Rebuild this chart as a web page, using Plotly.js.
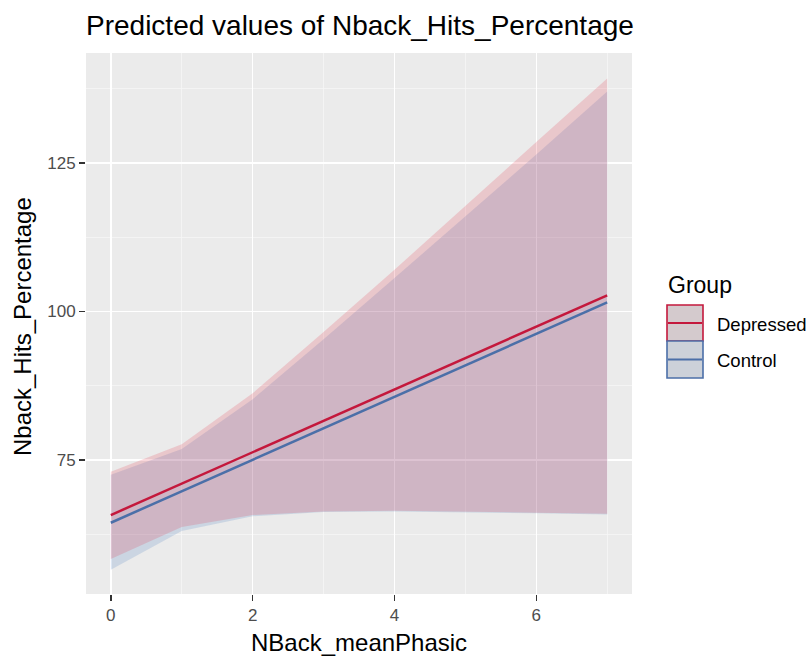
<!DOCTYPE html>
<html>
<head>
<meta charset="utf-8">
<script src="https://cdn.plot.ly/plotly-3.0.1.min.js"></script>
<style>html,body{margin:0;padding:0;background:#fff}#chart{width:812px;height:657px}</style>
</head>
<body>
<div id="chart"></div>
<script>
// ---- data ----
var groups = ["Depressed", "Control"];
var lineX = [0, 7];
var depressedPred = [65.7, 102.7];
var controlPred = [64.4, 101.5];
var ribbonX = [0, 1, 2, 3, 4, 5, 6, 7];
var depressedUpper = [73.0, 77.6, 86.2, 96.5, 107.0, 117.8, 128.5, 139.2];
var depressedLower = [58.3, 63.7, 65.7, 66.3, 66.4, 66.3, 66.1, 65.9];
var controlUpper = [72.5, 76.8, 85.2, 95.3, 105.6, 116.0, 126.4, 137.0];
var controlLower = [56.5, 63.0, 65.5, 66.2, 66.3, 66.2, 66.0, 65.8];
var xTicks = [0, 2, 4, 6];
var yTicks = [75, 100, 125];

var redLine = "#C4183C", blueLine = "#4B6FA8";
var redFill = "rgba(228,40,60,0.18)", blueFill = "rgba(60,115,190,0.18)";

function ribbon(lo, up, fill) {
  return {
    x: ribbonX.concat(ribbonX.slice().reverse()),
    y: up.concat(lo.slice().reverse()),
    type: "scatter", mode: "lines", fill: "toself", fillcolor: fill,
    line: {width: 0}, hoverinfo: "skip", showlegend: false
  };
}
var traces = [
  ribbon(controlLower, controlUpper, blueFill),
  ribbon(depressedLower, depressedUpper, redFill),
  {x: lineX, y: controlPred, type: "scatter", mode: "lines", line: {color: blueLine, width: 2.5}, name: groups[1], showlegend: false},
  {x: lineX, y: depressedPred, type: "scatter", mode: "lines", line: {color: redLine, width: 2.5}, name: groups[0], showlegend: false}
];

// plot area in pixels: x 86..632, y 53..594
var L = 86, R = 632, T = 53, B = 594;
function px(x) { return (x - L) / (R - L); }
function py(y) { return (B - y) / (B - T); }
var shapes = [
  {type: "rect", xref: "paper", yref: "paper", x0: px(667), x1: px(703), y0: py(341), y1: py(305), fillcolor: "#D4CACD", line: {color: redLine, width: 1.6}},
  {type: "line", xref: "paper", yref: "paper", x0: px(668), x1: px(702), y0: py(323), y1: py(323), line: {color: redLine, width: 2.2}},
  {type: "rect", xref: "paper", yref: "paper", x0: px(667), x1: px(703), y0: py(378), y1: py(341), fillcolor: "#CCD1D9", line: {color: blueLine, width: 1.6}},
  {type: "line", xref: "paper", yref: "paper", x0: px(668), x1: px(702), y0: py(359.5), y1: py(359.5), line: {color: blueLine, width: 2.2}}
];
var font = "Liberation Sans, Arial, Helvetica, sans-serif";
var annotations = [
  {text: "Group", xref: "paper", yref: "paper", x: px(666), y: py(285), xanchor: "left", yanchor: "middle", showarrow: false, font: {family: font, size: 23, color: "#000"}},
  {text: groups[0], xref: "paper", yref: "paper", x: px(715), y: py(324), xanchor: "left", yanchor: "middle", showarrow: false, font: {family: font, size: 18.5, color: "#000"}},
  {text: groups[1], xref: "paper", yref: "paper", x: px(715), y: py(360), xanchor: "left", yanchor: "middle", showarrow: false, font: {family: font, size: 18.5, color: "#000"}},
  {text: "NBack_meanPhasic", xref: "paper", yref: "paper", x: px(359), y: py(642), xanchor: "center", yanchor: "middle", showarrow: false, font: {family: font, size: 24, color: "#000"}},
  {text: "Nback_Hits_Percentage", xref: "paper", yref: "paper", x: px(22), y: py(327), xanchor: "center", yanchor: "middle", textangle: -90, showarrow: false, font: {family: font, size: 24, color: "#000"}}
];

var layout = {
  width: 812, height: 657,
  margin: {l: L, r: 812 - R, t: T, b: 657 - B, pad: 0},
  paper_bgcolor: "#FFFFFF", plot_bgcolor: "#EBEBEB",
  font: {family: font},
  title: {text: "Predicted values of Nback_Hits_Percentage", x: 86 / 812, xanchor: "left", xref: "container", y: 1 - 25 / 657, yanchor: "middle", font: {family: font, size: 28, color: "#000"}},
  showlegend: false,
  xaxis: {
    range: [-0.35, 7.35], tickvals: xTicks, ticks: "outside", ticklen: 6, tickwidth: 1.5, tickcolor: "#333333",
    tickfont: {family: font, size: 17, color: "#4D4D4D"}, showgrid: true, gridcolor: "#FFFFFF", gridwidth: 1.5,
    minor: {dtick: 1, tick0: 0, showgrid: true, gridcolor: "#F7F7F7", gridwidth: 0.75, ticks: ""},
    zeroline: false, showline: false
  },
  yaxis: {
    range: [52.4, 143.5], tickvals: yTicks, ticks: "outside", ticklen: 6, tickwidth: 1.5, tickcolor: "#333333",
    tickfont: {family: font, size: 17, color: "#4D4D4D"}, showgrid: true, gridcolor: "#FFFFFF", gridwidth: 1.5,
    minor: {dtick: 12.5, tick0: 0, showgrid: true, gridcolor: "#F7F7F7", gridwidth: 0.75, ticks: ""},
    zeroline: false, showline: false
  },
  shapes: shapes,
  annotations: annotations
};
Plotly.newPlot("chart", traces, layout, {displayModeBar: false, staticPlot: true});
</script>
</body>
</html>
